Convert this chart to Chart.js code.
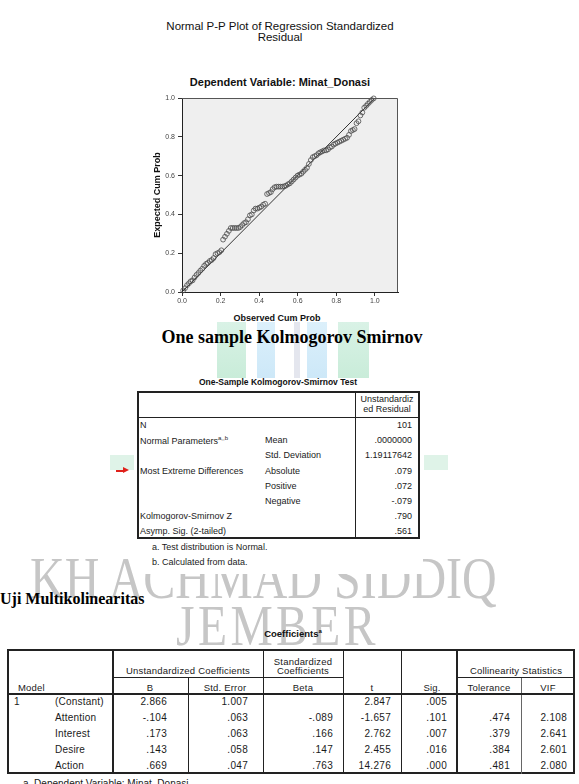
<!DOCTYPE html>
<html><head><meta charset="utf-8">
<script src="https://cdn.jsdelivr.net/npm/chart.js@4.4.1/dist/chart.umd.min.js"></script>
<style>
html,body{margin:0;padding:0;width:579px;height:784px;overflow:hidden;background:#fff;}
body{position:relative;font-family:"Liberation Sans",Arial,sans-serif;color:#1a1a1a;}
.a{position:absolute;white-space:nowrap;line-height:1;}
#cv{position:absolute;left:140px;top:90px;z-index:5;}
</style></head><body>
<canvas id="cv" width="300" height="240"></canvas>
<script>
// ---------- chart data ----------
const observedCumProb = [0.006,0.016,0.026,0.036,0.045,0.055,0.065,0.075,0.085,0.095,
0.105,0.115,0.125,0.134,0.144,0.154,0.164,0.174,0.184,0.194,
0.204,0.213,0.223,0.233,0.243,0.253,0.263,0.273,0.283,0.293,
0.302,0.312,0.322,0.332,0.342,0.352,0.362,0.372,0.381,0.391,
0.401,0.411,0.421,0.431,0.441,0.451,0.461,0.470,0.480,0.490,
0.500,0.510,0.520,0.530,0.539,0.549,0.559,0.569,0.579,0.589,
0.599,0.609,0.619,0.628,0.638,0.648,0.658,0.668,0.678,0.688,
0.698,0.708,0.717,0.727,0.737,0.747,0.757,0.767,0.777,0.787,
0.796,0.806,0.816,0.826,0.836,0.846,0.856,0.866,0.876,0.886,
0.895,0.905,0.915,0.925,0.935,0.945,0.955,0.964,0.974,0.984,0.994];
const expectedCumProb = [0.008,0.020,0.035,0.045,0.055,0.060,0.075,0.088,0.098,0.110,
0.120,0.135,0.145,0.150,0.160,0.165,0.175,0.195,0.200,0.205,
0.215,0.270,0.285,0.300,0.315,0.330,0.330,0.330,0.330,0.330,
0.335,0.345,0.355,0.360,0.375,0.395,0.400,0.420,0.430,0.430,
0.435,0.440,0.450,0.455,0.505,0.510,0.515,0.530,0.540,0.543,
0.543,0.543,0.543,0.545,0.548,0.555,0.560,0.570,0.580,0.590,
0.600,0.605,0.610,0.620,0.630,0.640,0.660,0.680,0.695,0.700,
0.705,0.715,0.720,0.725,0.730,0.730,0.735,0.745,0.750,0.760,
0.765,0.770,0.775,0.780,0.785,0.790,0.795,0.810,0.830,0.835,
0.840,0.870,0.880,0.910,0.925,0.950,0.960,0.970,0.980,0.990,0.998];
const refLineX = [0, 1];
const refLineY = [0, 1];
const xTickValues = [0, 0.2, 0.4, 0.6, 0.8, 1.0];
const yTickValues = [0, 0.2, 0.4, 0.6, 0.8, 1.0];
const chartTitle = ["Normal P-P Plot of Regression Standardized", "Residual"];
const chartSubtitle = "Dependent Variable: Minat_Donasi";
const xTitle = "Observed Cum Prob";
const yTitle = "Expected Cum Prob";

// ---------- KS table data ----------
const ksHeader = ["Unstandardiz", "ed Residual"];
const ksLabels1 = ["N", "Normal Parameters", "", "Most Extreme Differences", "", "", "Kolmogorov-Smirnov Z", "Asymp. Sig. (2-tailed)"];
const ksLabels2 = ["", "Mean", "Std. Deviation", "Absolute", "Positive", "Negative", "", ""];
const ksValues = ["101", ".0000000", "1.19117642", ".079", ".072", "-.079", ".790", ".561"];
const ksNotes = ["a. Test distribution is Normal.", "b. Calculated from data."];

// ---------- Coefficients table data ----------
const coefModel = ["1", "", "", "", ""];
const coefVars = ["(Constant)", "Attention", "Interest", "Desire", "Action"];
const coefB = ["2.866", "-.104", ".173", ".143", ".669"];
const coefSE = ["1.007", ".063", ".063", ".058", ".047"];
const coefBeta = ["", "-.089", ".166", ".147", ".763"];
const coefT = ["2.847", "-1.657", "2.762", "2.455", "14.276"];
const coefSig = [".005", ".101", ".007", ".016", ".000"];
const coefTol = ["", ".474", ".379", ".384", ".481"];
const coefVIF = ["", "2.108", "2.641", "2.601", "2.080"];

// ---------- helpers ----------
function T(x, y, s, o) {
  o = o || {};
  const d = document.createElement('div');
  d.className = 'a';
  if (o.html) d.innerHTML = s; else d.textContent = s;
  d.style.fontSize = (o.size || 9.5) + 'px';
  if (o.bold) d.style.fontWeight = 'bold';
  if (o.family) d.style.fontFamily = o.family;
  if (o.color) d.style.color = o.color;
  if (o.ls) d.style.letterSpacing = o.ls + 'px';
  d.style.zIndex = (o.z != null) ? o.z : 4;
  d.style.top = y + 'px';
  const sx = o.sx ? ' scaleX(' + o.sx + ')' : '';
  const al = o.align || 'l';
  if (al === 'l') { d.style.left = x + 'px'; d.style.transformOrigin = 'left center'; d.style.transform = 'translateY(-50%)' + sx; }
  else if (al === 'r') { d.style.right = (579 - x) + 'px'; d.style.transform = 'translateY(-50%)'; }
  else { d.style.left = x + 'px'; d.style.transform = 'translate(-50%,-50%)'; }
  document.body.appendChild(d);
  return d;
}
function R(x, y, w, h, c, z) {
  const d = document.createElement('div');
  d.style.position = 'absolute';
  d.style.left = x + 'px'; d.style.top = y + 'px';
  d.style.width = w + 'px'; d.style.height = h + 'px';
  d.style.background = c || '#222';
  d.style.zIndex = z == null ? 4 : z;
  document.body.appendChild(d);
  return d;
}

// ---------- watermark ----------
const wmColor = '#c6c6c6';
const wmFont = '"Liberation Serif","Times New Roman",serif';
R(217, 322, 29, 56, 'linear-gradient(#d9f2e6,#c9ecd9)', 0);
R(257, 322, 18, 56, 'linear-gradient(#dcf0fb,#cde8f8)', 0);
R(294, 322, 6, 56, '#e4e6ee', 0);
R(307, 322, 20, 56, 'linear-gradient(#dcf0fb,#cde8f8)', 0);
R(338, 322, 31, 56, 'linear-gradient(#d9f2e6,#c9ecd9)', 0);
R(110, 455, 24, 15, '#dff3e8', 0);
R(424, 455, 24, 15, '#dff3e8', 0);
T(30, 578, "KH ACHMAD SIDDIQ", {size: 60, family: wmFont, color: wmColor, z: 0, sx: 0.8});
T(176, 626, "JEMBER", {size: 56, family: wmFont, color: wmColor, ls: 4, z: 0, sx: 0.85});
// white background of the pasted KS output image
R(135, 378, 288, 196, '#fff', 1);

// ---------- chart titles ----------
T(280, 27, chartTitle[0], {align: 'c', size: 11.5, color: '#111'});
T(280, 38, chartTitle[1], {align: 'c', size: 11.5, color: '#111'});
T(280, 82, chartSubtitle, {align: 'c', size: 11, bold: true, color: '#111'});
T(277, 318, xTitle, {align: 'c', size: 9, bold: true, color: '#111'});

// ---------- chart ----------
const bgPlugin = {
  id: 'plotbg',
  beforeDraw(c) {
    const {ctx, chartArea: a} = c;
    ctx.save();
    ctx.fillStyle = '#efefef';
    ctx.fillRect(a.left, a.top, a.right - a.left, a.bottom - a.top);
    ctx.restore();
  },
  afterDraw(c) {
    const {ctx, chartArea: a} = c;
    ctx.save();
    ctx.strokeStyle = '#555';
    ctx.lineWidth = 1;
    ctx.beginPath();
    ctx.moveTo(a.left, a.top + 0.5); ctx.lineTo(a.right - 0.5, a.top + 0.5); ctx.lineTo(a.right - 0.5, a.bottom);
    ctx.stroke();
    ctx.restore();
  }
};
const tickFont = {family: '"Liberation Sans",Arial,sans-serif', size: 7};
const titleFont = {family: '"Liberation Sans",Arial,sans-serif', size: 9, weight: 'bold'};
new Chart(document.getElementById('cv'), {
  type: 'scatter',
  data: {
    datasets: [
      {
        data: observedCumProb.map((x, i) => ({x: x, y: expectedCumProb[i]})),
        pointRadius: 2.4, pointBorderWidth: 0.8,
        pointBackgroundColor: 'rgba(0,0,0,0)', pointBorderColor: '#4a4a4a',
        clip: false
      },
      {
        type: 'line',
        data: refLineX.map((x, i) => ({x: x, y: refLineY[i]})),
        borderColor: '#333', borderWidth: 1, pointRadius: 0, fill: false, tension: 0,
        clip: false
      }
    ]
  },
  options: {
    responsive: false, animation: false, events: [],
    layout: {padding: {left: 0, top: 8, right: 42, bottom: 0}},
    plugins: {legend: {display: false}, tooltip: {enabled: false}},
    scales: {
      x: {
        type: 'linear', min: 0, max: 1.12,
        afterBuildTicks: s => { s.ticks = xTickValues.map(v => ({value: v})); },
        afterFit: s => { s.height = 38; },
        ticks: {font: tickFont, color: '#444', padding: 1, maxRotation: 0, callback: v => Number(v).toFixed(1)},
        grid: {display: true, drawOnChartArea: false, drawTicks: true, tickLength: 4, color: '#333'},
        border: {display: true, color: '#222', width: 1},
        title: {display: false}
      },
      y: {
        type: 'linear', min: 0, max: 1.0,
        afterBuildTicks: s => { s.ticks = yTickValues.map(v => ({value: v})); },
        afterFit: s => { s.width = 42; },
        ticks: {font: tickFont, color: '#444', padding: 3, callback: v => Number(v).toFixed(1)},
        grid: {display: true, drawOnChartArea: false, drawTicks: true, tickLength: 4, color: '#333'},
        border: {display: true, color: '#222', width: 1},
        title: {display: true, text: yTitle, font: titleFont, color: '#111', padding: {top: 12.6, bottom: 0}}
      }
    }
  },
  plugins: [bgPlugin]
});

// ---------- KS section ----------
const serif = '"Liberation Serif","Times New Roman",serif';
T(292, 337, "One sample Kolmogorov Smirnov", {align: 'c', size: 18, bold: true, family: serif, color: '#000'});
T(278, 382, "One-Sample Kolmogorov-Smirnov Test", {align: 'c', size: 8.5, bold: true, color: '#111'});
// table frame
const kL = 137, kR = 420, kT = 391, kB = 539, kD = 355;
R(kL, kT, kR - kL, 2); R(kL, kB - 2, kR - kL, 2); R(kL, kT, 2, kB - kT); R(kR - 2, kT, 2, kB - kT);
R(kD, kT, 1, kB - kT); R(kL, 417, kR - kL, 1);
T(387, 399, ksHeader[0], {align: 'c', size: 9});
T(387, 409, ksHeader[1], {align: 'c', size: 9});
const ksRowY = [425, 440, 455, 470.5, 486, 501, 516, 531];
for (let i = 0; i < ksValues.length; i++) {
  const y = ksRowY[i];
  if (ksLabels1[i]) {
    const sup = i === 1 ? '<sup style="font-size:6px;vertical-align:4px">a,,b</sup>' : '';
    T(140, y, ksLabels1[i] + sup, {html: true, size: 9});
  }
  if (ksLabels2[i]) T(265, y, ksLabels2[i], {size: 9});
  T(412, y, ksValues[i], {align: 'r', size: 9});
}
// red arrow
R(116, 469.5, 8, 2, '#e0211b');
const arr = document.createElement('div');
arr.style.cssText = 'position:absolute;left:123px;top:467px;width:0;height:0;border-top:3.5px solid transparent;border-bottom:3.5px solid transparent;border-left:6px solid #e0211b;z-index:4';
document.body.appendChild(arr);
T(152, 547, ksNotes[0], {size: 9});
T(152, 562, ksNotes[1], {size: 9});

// ---------- Multikolinearitas ----------
T(0, 599, "Uji Multikolinearitas", {size: 16, bold: true, family: serif, color: '#000'});
T(293, 633, "Coefficients<sup style=\"font-size:6px;vertical-align:4px\">a</sup>", {html: true, align: 'c', size: 9.5, bold: true, color: '#111'});
// white bg of table image
R(7, 648, 568, 126, '#fff', 1);
// frame
R(7, 649, 568, 2); R(7, 772, 568, 2); R(7, 649, 2, 125); R(573, 649, 2, 125);
R(112, 649, 2, 125); R(188, 677, 1, 97); R(263, 649, 1, 125); R(343, 649, 1, 125);
R(401, 649, 1, 125); R(456, 649, 2, 125); R(521, 677, 1, 97, '#666');
R(113, 677, 230, 1); R(457, 677, 118, 1);
R(7, 693, 568, 2);
const hs = {size: 9.5, align: 'c', ls: 0.2};
T(188, 671, "Unstandardized Coefficients", hs);
T(303, 662, "Standardized", hs);
T(303, 671, "Coefficients", hs);
T(516, 671, "Collinearity Statistics", hs);
T(18, 688, "Model", {size: 9.5, ls: 0.2});
T(150, 688, "B", hs); T(225, 688, "Std. Error", hs); T(303, 688, "Beta", hs);
T(372, 688, "t", hs); T(432, 688, "Sig.", hs); T(489, 688, "Tolerance", hs); T(548, 688, "VIF", hs);
const rowY = [702, 718, 734, 750, 766];
const cols = [[coefB, 167], [coefSE, 248], [coefBeta, 333], [coefT, 391], [coefSig, 447], [coefTol, 510], [coefVIF, 567]];
for (let i = 0; i < rowY.length; i++) {
  if (coefModel[i]) T(14, rowY[i], coefModel[i], {size: 10});
  T(55, rowY[i], coefVars[i], {size: 10, ls: 0.2});
  cols.forEach(([arr2, xr]) => { if (arr2[i]) T(xr, rowY[i], arr2[i], {size: 10, align: 'r', ls: 0.3}); });
}
T(23, 784, "a. Dependent Variable: Minat_Donasi", {size: 10});
</script>
</body></html>
